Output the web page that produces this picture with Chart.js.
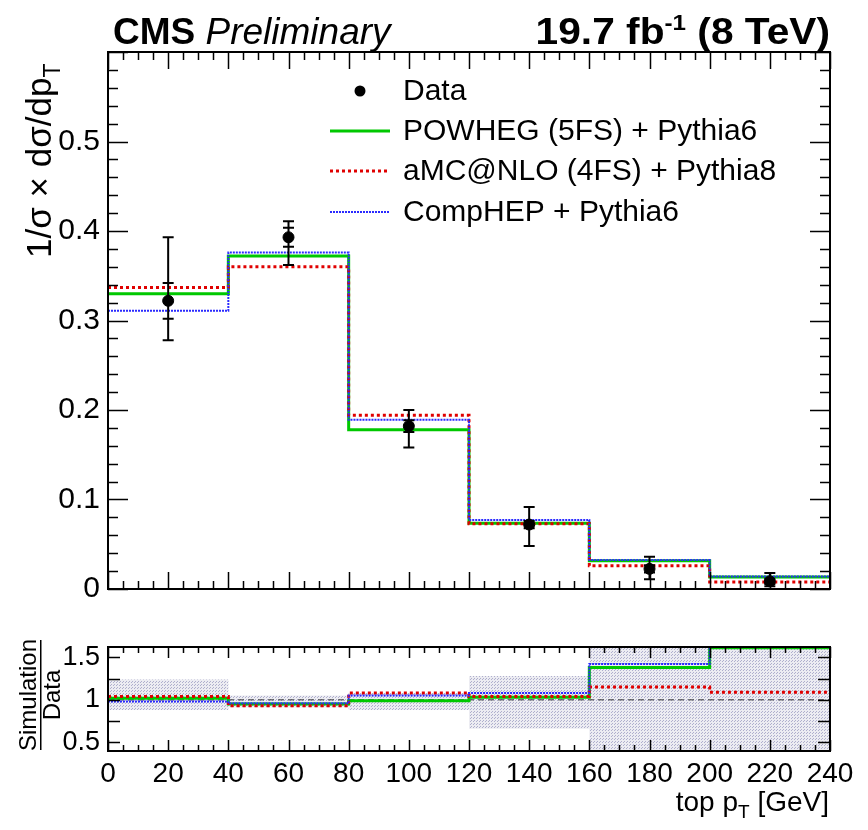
<!doctype html>
<html lang="en">
<head>
<meta charset="utf-8">
<title>top pT normalized differential cross section</title>
<style>
  body { margin: 0; background: #fff; }
  #wrap { position: relative; width: 868px; height: 830px; }
  #mainBox { position: absolute; left: 0; top: 0; width: 868px; height: 615px; }
  #ratioBox { position: absolute; left: 0; top: 615px; width: 868px; height: 215px; }
</style>
</head>
<body>
<div id="wrap">
  <div id="mainBox"><canvas id="mainChart" width="868" height="615"></canvas></div>
  <div id="ratioBox"><canvas id="ratioChart" width="868" height="215"></canvas></div>
</div>
<script src="https://cdn.jsdelivr.net/npm/chart.js"></script>
<script>
// values
var binEdges = [0, 40, 80, 120, 160, 200, 240];
var binCenters = [20, 60, 100, 140, 180, 220];
var dataVals = [0.322, 0.393, 0.182, 0.072, 0.0225, 0.0085];
var statErr = [0.020, 0.0105, 0.0065, 0.004, 0.004, 0.003];
var totErrUp = [0.071, 0.018, 0.018, 0.0195, 0.0135, 0.0093];
var totErrDown = [0.044, 0.031, 0.024, 0.024, 0.0115, 0.0055];
var powheg = [0.330, 0.372, 0.178, 0.0736, 0.0316, 0.0134];
var amcnlo = [0.337, 0.360, 0.194, 0.0729, 0.026, 0.0079];
var comphep = [0.311, 0.376, 0.189, 0.077, 0.0323, 0.014];
var powhegRatio = [1.02, 0.95, 0.99, 1.03, 1.38, 1.61];
var amcnloRatio = [1.04, 0.93, 1.08, 1.04, 1.15, 1.09];
var comphepRatio = [0.98, 0.96, 1.05, 1.08, 1.42, 1.66];
var bandHi = [1.24, 1.05, 1.08, 1.28, 2.0, 2.0];
var bandLo = [0.88, 0.91, 0.88, 0.66, 0.0, 0.0];
var mainYTicks = [0, 0.1, 0.2, 0.3, 0.4, 0.5];
var ratioYTicks = [0.5, 1, 1.5];
var xTicks = [0, 20, 40, 60, 80, 100, 120, 140, 160, 180, 200, 220, 240];
var seriesNames = ['Data', 'POWHEG (5FS) + Pythia6', 'aMC@NLO (4FS) + Pythia8', 'CompHEP + Pythia6'];

var FONT = '"Liberation Sans", Arial, Helvetica, sans-serif';
var GREEN = '#00c800', RED = '#e00000', BLUE = '#2a2aff';

function histPoints(vals) {
  var pts = [];
  for (var i = 0; i < vals.length; i++) {
    pts.push({x: binEdges[i], y: vals[i]});
    pts.push({x: binEdges[i + 1], y: vals[i]});
  }
  return pts;
}

function histSet(label, vals, color, width, dash, order) {
  return {
    type: 'line', label: label, data: histPoints(vals),
    borderColor: color, borderWidth: width, borderDash: dash,
    pointRadius: 0, fill: false, tension: 0, order: order
  };
}

// light dotted grey-blue fill like the ROOT hatch
var pc = document.createElement('canvas');
pc.width = 3; pc.height = 3;
var pctx = pc.getContext('2d');
pctx.fillStyle = 'rgb(236,236,242)';
pctx.fillRect(0, 0, 3, 3);
pctx.fillStyle = 'rgb(175,175,205)';
pctx.fillRect(0, 0, 1, 1);
pctx.fillRect(2, 1, 1, 1);
var bandPattern = pctx.createPattern(pc, 'repeat');

// frame + inward ticks on all four sides
function framePlugin(spec) {
  return {
    id: 'rootFrame',
    afterDatasetsDraw: function(chart) {
      var ctx = chart.ctx, a = chart.chartArea;
      var xs = chart.scales.x, ys = chart.scales.y;
      ctx.save();
      ctx.strokeStyle = '#000';
      ctx.lineWidth = 1.5;
      ctx.beginPath();
      var n = Math.round((spec.xMax - spec.xMin) / spec.xMinor);
      for (var i = 0; i <= n; i++) {
        var v = spec.xMin + i * spec.xMinor;
        var len = (i % spec.xEvery === 0) ? spec.xMajLen : spec.xMinLen;
        var px = Math.round(xs.getPixelForValue(v)) + 0.5;
        ctx.moveTo(px, a.bottom); ctx.lineTo(px, a.bottom - len);
        ctx.moveTo(px, a.top); ctx.lineTo(px, a.top + len);
      }
      var m = Math.floor((spec.yMax - spec.yStart) / spec.yMinor + 1e-6);
      for (var j = 0; j <= m; j++) {
        var w = spec.yStart + j * spec.yMinor;
        var l2 = (j % spec.yEvery === 0) ? spec.yMajLen : spec.yMinLen;
        var py = Math.round(ys.getPixelForValue(w)) + 0.5;
        ctx.moveTo(a.left, py); ctx.lineTo(a.left + l2, py);
        ctx.moveTo(a.right, py); ctx.lineTo(a.right - l2, py);
      }
      ctx.stroke();
      ctx.lineWidth = 2;
      ctx.strokeRect(a.left, a.top, a.right - a.left, a.bottom - a.top);
      ctx.restore();
    }
  };
}

var errorBarPlugin = {
  id: 'errorBars',
  afterDatasetsDraw: function(chart) {
    var ctx = chart.ctx, xs = chart.scales.x, ys = chart.scales.y;
    ctx.save();
    ctx.strokeStyle = '#000';
    ctx.lineWidth = 2;
    ctx.beginPath();
    for (var i = 0; i < binCenters.length; i++) {
      var px = xs.getPixelForValue(binCenters[i]);
      var top = ys.getPixelForValue(dataVals[i] + totErrUp[i]);
      var bot = ys.getPixelForValue(dataVals[i] - totErrDown[i]);
      var st = ys.getPixelForValue(dataVals[i] + statErr[i]);
      var sb = ys.getPixelForValue(dataVals[i] - statErr[i]);
      ctx.moveTo(px, top); ctx.lineTo(px, bot);
      [top, bot, st, sb].forEach(function(y) {
        ctx.moveTo(px - 5.5, y); ctx.lineTo(px + 5.5, y);
      });
    }
    ctx.stroke();
    ctx.restore();
  }
};

function textRun(ctx, parts, x, y) {
  // parts: [text, font, dy]
  var cx = x;
  parts.forEach(function(p) {
    ctx.font = p[1];
    ctx.fillText(p[0], cx, y + (p[2] || 0));
    cx += ctx.measureText(p[0]).width;
  });
  return cx;
}
function runWidth(ctx, parts) {
  var w = 0;
  parts.forEach(function(p) { ctx.font = p[1]; w += ctx.measureText(p[0]).width; });
  return w;
}

var mainTextPlugin = {
  id: 'mainText',
  afterDraw: function(chart) {
    var ctx = chart.ctx;
    ctx.save();
    ctx.fillStyle = '#000';
    ctx.textBaseline = 'alphabetic';
    ctx.textAlign = 'left';
    // header
    textRun(ctx, [['CMS', 'bold 37px ' + FONT], [' ', '37px ' + FONT], ['Preliminary', 'italic 37px ' + FONT]], 113, 44);
    var right = [['19.7 fb', 'bold 37px ' + FONT], ['-1', 'bold 22px ' + FONT, -14], [' (8 TeV)', 'bold 37px ' + FONT]];
    var rw = runWidth(ctx, right);
    ctx.save();
    ctx.translate(830, 44);
    ctx.scale(1.1, 1);
    textRun(ctx, right, -rw, 0);
    ctx.restore();

    // y title
    ctx.save();
    ctx.translate(51, 258);
    ctx.rotate(-Math.PI / 2);
    textRun(ctx, [['1/\u03c3 \u00d7 d\u03c3/dp', '35px ' + FONT], ['T', '23px ' + FONT, 9]], 0, 0);
    ctx.restore();

    // legend
    var rows = [91, 131, 171, 212];
    ctx.beginPath();
    ctx.arc(360, rows[0], 5.5, 0, Math.PI * 2);
    ctx.fill();
    var styles = [[GREEN, 3, []], [RED, 3, [3, 3]], [BLUE, 2, [2, 1]]];
    for (var i = 0; i < 3; i++) {
      ctx.save();
      ctx.strokeStyle = styles[i][0];
      ctx.lineWidth = styles[i][1];
      ctx.setLineDash(styles[i][2]);
      ctx.beginPath();
      ctx.moveTo(330, rows[i + 1]); ctx.lineTo(390, rows[i + 1]);
      ctx.stroke();
      ctx.restore();
    }
    ctx.font = '30px ' + FONT;
    ctx.textBaseline = 'middle';
    for (var k = 0; k < 4; k++) ctx.fillText(seriesNames[k], 403, rows[k] + 1);
    ctx.restore();
  }
};

var ratioTextPlugin = {
  id: 'ratioText',
  afterDraw: function(chart) {
    var ctx = chart.ctx;
    ctx.save();
    ctx.fillStyle = '#000';
    ctx.textAlign = 'left';
    ctx.textBaseline = 'alphabetic';
    var xt = [['top p', '28px ' + FONT], ['T', '19px ' + FONT, 7], [' [GeV]', '28px ' + FONT]];
    textRun(ctx, xt, 829 - runWidth(ctx, xt), 196);

    ctx.save();
    ctx.translate(0, 80);
    ctx.rotate(-Math.PI / 2);
    ctx.textAlign = 'center';
    ctx.font = '24px ' + FONT;
    ctx.fillText('Simulation', 0, 36);
    ctx.fillText('Data', 0, 60);
    ctx.fillRect(-55, 40, 110, 1.5);
    ctx.restore();
    ctx.restore();
  }
};

new Chart(document.getElementById('mainChart'), {
  type: 'line',
  data: {
    datasets: [
      {
        type: 'scatter', label: 'Data',
        data: binCenters.map(function(x, i) { return {x: x, y: dataVals[i]}; }),
        pointRadius: 5.5, pointBackgroundColor: '#000', pointBorderColor: '#000',
        showLine: false, order: 0
      },
      histSet(seriesNames[1], powheg, GREEN, 3, [], 3),
      histSet(seriesNames[2], amcnlo, RED, 3, [3, 3], 2),
      histSet(seriesNames[3], comphep, BLUE, 2, [2, 1], 1)
    ]
  },
  options: {
    responsive: false,
    animation: false,
    events: [],
    layout: {padding: {top: 52, right: 38, bottom: 15, left: 0}},
    plugins: {legend: {display: false}, tooltip: {enabled: false}},
    scales: {
      x: {type: 'linear', min: 0, max: 240, display: false},
      y: {
        type: 'linear', min: 0, max: 0.6,
        grid: {display: false, drawTicks: false},
        border: {display: false},
        afterFit: function(s) { s.width = 108; },
        afterBuildTicks: function(s) { s.ticks = mainYTicks.map(function(v) { return {value: v}; }); },
        ticks: {
          padding: 8, color: '#000', font: {family: FONT, size: 30},
          callback: function(v) { return String(Math.round(v * 10) / 10); }
        }
      }
    }
  },
  plugins: [
    framePlugin({xMin: 0, xMax: 240, xMinor: 5, xEvery: 4, xMajLen: 17, xMinLen: 8,
                 yStart: 0, yMax: 0.6, yMinor: 0.02, yEvery: 5, yMajLen: 20, yMinLen: 10}),
    errorBarPlugin, mainTextPlugin
  ]
});

new Chart(document.getElementById('ratioChart'), {
  type: 'line',
  data: {
    datasets: [
      {
        type: 'line', label: 'band hi', data: histPoints(bandHi),
        borderWidth: 0, pointRadius: 0, fill: false, order: 10
      },
      {
        type: 'line', label: 'band lo', data: histPoints(bandLo),
        borderWidth: 0, pointRadius: 0, fill: '-1', backgroundColor: bandPattern, order: 10
      },
      {
        type: 'line', label: 'unity', data: [{x: binEdges[0], y: 1}, {x: binEdges[binEdges.length - 1], y: 1}],
        borderColor: '#333', borderWidth: 1, borderDash: [6, 4], pointRadius: 0, fill: false, order: 9
      },
      histSet(seriesNames[1], powhegRatio, GREEN, 3, [], 3),
      histSet(seriesNames[2], amcnloRatio, RED, 3, [3, 3], 2),
      histSet(seriesNames[3], comphepRatio, BLUE, 2, [2, 1], 1)
    ]
  },
  options: {
    responsive: false,
    animation: false,
    events: [],
    layout: {padding: {top: 32, right: 38, bottom: 0, left: 0}},
    plugins: {legend: {display: false}, tooltip: {enabled: false}},
    scales: {
      x: {
        type: 'linear', min: 0, max: 240,
        grid: {display: false, drawTicks: false},
        border: {display: false},
        afterFit: function(s) { s.height = 79; },
        afterBuildTicks: function(s) { s.ticks = xTicks.map(function(v) { return {value: v}; }); },
        ticks: {padding: 6, color: '#000', font: {family: FONT, size: 28}, maxRotation: 0, autoSkip: false}
      },
      y: {
        type: 'linear', min: 0.4, max: 1.62,
        grid: {display: false, drawTicks: false},
        border: {display: false},
        afterFit: function(s) { s.width = 108; },
        afterBuildTicks: function(s) { s.ticks = ratioYTicks.map(function(v) { return {value: v}; }); },
        ticks: {
          padding: 8, color: '#000', font: {family: FONT, size: 27},
          callback: function(v) { return String(v); }
        }
      }
    }
  },
  plugins: [
    framePlugin({xMin: 0, xMax: 240, xMinor: 5, xEvery: 4, xMajLen: 11, xMinLen: 6,
                 yStart: 0.5, yMax: 1.62, yMinor: 0.25, yEvery: 2, yMajLen: 12, yMinLen: 12}),
    ratioTextPlugin
  ]
});
</script>
</body>
</html>
